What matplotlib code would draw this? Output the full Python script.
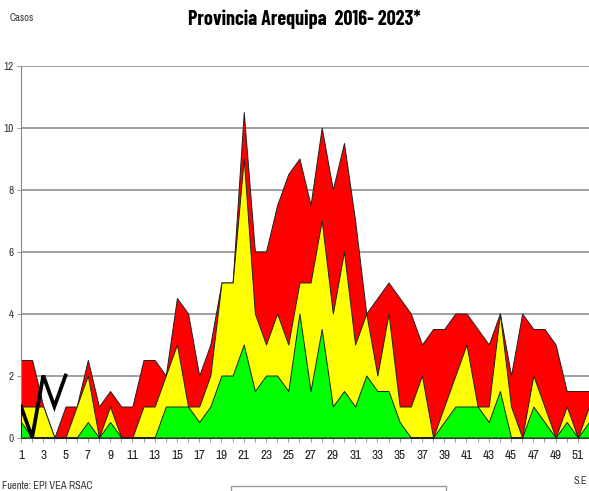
import matplotlib
matplotlib.use("Agg")
import matplotlib.pyplot as plt
from matplotlib.patches import Rectangle

# narrow sans like the original (Arial Narrow look)
plt.rcParams['font.family'] = ['Archivo Narrow', 'Liberation Sans', 'DejaVu Sans']
title_fonts = ['Barlow Condensed', 'Fira Sans Condensed', 'Archivo Narrow', 'DejaVu Sans']

weeks = list(range(1, 53))

# upper limits of the endemic channel zones (casos por semana)
zona_alarma = [2.5, 2.5, 1, 0, 1, 1, 2.5, 1, 1.5, 1,
               1, 2.5, 2.5, 2, 4.5, 4, 2, 3, 5, 5,
               10.5, 6, 6, 7.5, 8.5, 9, 7.5, 10, 8, 9.5,
               7, 4, 4.5, 5, 4.5, 4, 3, 3.5, 3.5, 4,
               4, 3.5, 3, 4, 2, 4, 3.5, 3.5, 3, 1.5,
               1.5, 1.5]
zona_seguridad = [1, 1, 1, 0, 0, 1, 2, 0, 1, 0,
                  0, 1, 1, 2, 3, 1, 1, 2, 5, 5,
                  9, 4, 3, 4, 3, 5, 5, 7, 4, 6,
                  3, 4, 2, 4, 1, 1, 2, 0, 1, 2,
                  3, 1, 1, 4, 1, 0, 2, 1, 0, 1,
                  0, 1]
zona_exito = [0.5, 0, 0, 0, 0, 0, 0.5, 0, 0.5, 0,
              0, 0, 0, 1, 1, 1, 0.5, 1, 2, 2,
              3, 1.5, 2, 2, 1.5, 4, 1.5, 3.5, 1, 1.5,
              1, 2, 1.5, 1.5, 0.5, 0, 0, 0, 0.5, 1,
              1, 1, 0.5, 1.5, 0, 0, 1, 0.5, 0, 0.5,
              0, 0.5]

# casos 2023
weeks_2023 = [1, 2, 3, 4, 5]
casos_2023 = [1, 0, 2, 1, 2]

yticks = [0, 2, 4, 6, 8, 10, 12]
xlabels = list(range(1, 52, 2))

fig = plt.figure(figsize=(5.89, 4.91), dpi=100)
ax = fig.add_axes([21 / 589, 53.5 / 491, 1 - 21 / 589, 372 / 491])

ax.fill_between(weeks, 0, zona_alarma, color='#ff0000', edgecolor='#202020', linewidth=0.7, zorder=2)
ax.fill_between(weeks, 0, zona_seguridad, color='#ffff00', edgecolor='#202020', linewidth=0.7, zorder=3)
ax.fill_between(weeks, 0, zona_exito, color='#00ff00', edgecolor='#202020', linewidth=0.7, zorder=4)
ax.plot(weeks_2023, casos_2023, color='black', linewidth=2.7, zorder=5, solid_joinstyle='miter')

ax.set_xlim(1, 51.8)
ax.set_ylim(0, 12)
ax.set_yticks(yticks)
ax.set_yticklabels([str(v) for v in yticks], fontsize=8, color='#333333')
ax.set_xticks(weeks)
ax.set_xticklabels([str(w) if w in xlabels else '' for w in weeks], fontsize=9.5, color='#222222')
ax.tick_params(axis='x', length=3, width=0.6, color='#888888', pad=6)
ax.tick_params(axis='y', length=3, width=0.6, color='#888888', pad=2)

ax.grid(axis='y', color='#9a9a9a', linewidth=1.3, zorder=1)
ax.set_axisbelow(True)
for s in ['top', 'right']:
    ax.spines[s].set_visible(False)
ax.spines['left'].set_color('#888888')
ax.spines['bottom'].set_color('#888888')

fig.text(304 / 589, 1 - 19 / 491, 'Provincia Arequipa  2016- 2023*', ha='center', va='center',
         fontsize=14.5, fontweight='bold', family=title_fonts)
fig.text(10 / 589, 1 - 18 / 491, 'Casos', ha='left', va='center', fontsize=7.5, color='#333333')
fig.text(2 / 589, 1 - 486 / 491, 'Fuente: EPI VEA RSAC', ha='left', va='center', fontsize=7.5, color='#333333')
fig.text(580 / 589, 1 - 481 / 491, 'S.E', ha='center', va='center', fontsize=7.5, color='#333333')

# legend frame, cut off at the bottom edge
fig.patches.append(Rectangle((231 / 589, -0.05), 215 / 589, 0.05 + 5 / 491, transform=fig.transFigure,
                             fill=False, edgecolor='#999999', linewidth=1))

fig.savefig('out.png', dpi=100)
